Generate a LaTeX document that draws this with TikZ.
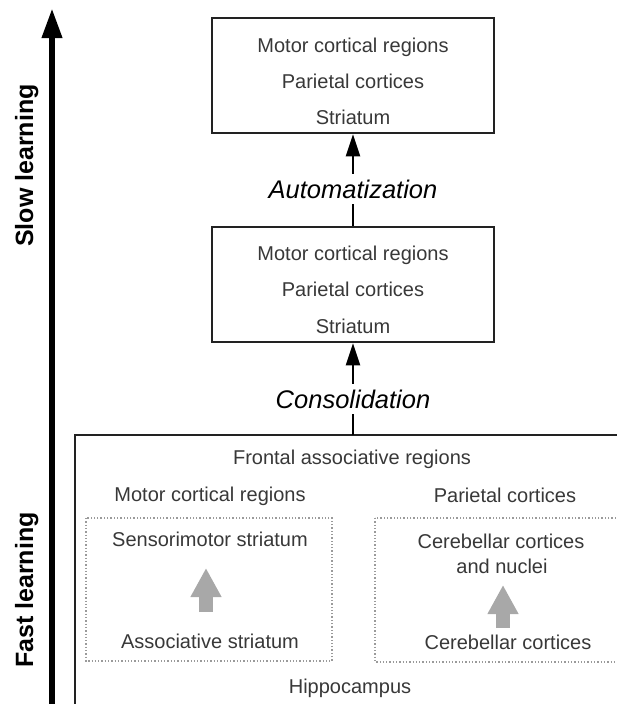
\documentclass[tikz,border=0pt]{standalone}
\usepackage{fontspec}
\setmainfont{Liberation Sans}
\usetikzlibrary{arrows.meta}
\definecolor{txt}{HTML}{383838}
\definecolor{boxc}{HTML}{222222}
\definecolor{fat}{HTML}{A8A8A8}
\definecolor{dotc}{HTML}{9A9A9A}
\tikzset{
  x=1pt, y=1pt,
  lbl/.style={anchor=base, inner sep=0pt, text=txt, font=\fontsize{20}{24}\selectfont},
  ital/.style={inner sep=0pt, minimum width=190, minimum height=30, text=black, font=\fontsize{25.5}{29}\selectfont\itshape},
  bigbox/.style={draw=boxc, line width=2.5pt, minimum width=282, minimum height=115, inner sep=0pt},
  conn/.style={draw=black, line width=2pt, -{Triangle[width=14pt,length=22pt]}},
  plain/.style={draw=black, line width=2pt},
  dotbox/.style={draw=dotc, dotted, line width=1.3pt},
  fatarrow/.style={draw=fat, line width=14pt, -{Triangle[width=29pt,length=29pt]}},
  side/.style={anchor=base, rotate=90, inner sep=0pt, font=\fontsize{25}{30}\selectfont\bfseries}
}
\begin{document}
\begin{tikzpicture}
\useasboundingbox (0,0) rectangle (617,-704);
\clip (0,0) rectangle (617,-704);
% big axis arrow
\coordinate (axb) at (52,-710);
\coordinate (axt) at (52,-8);
\draw[line width=6.5pt, -{Triangle[width=19pt,length=30pt]}] (axb) -- (axt);
\node[side] (slow) at (33,-165.5) {Slow learning};
\node[side] (fast) at (33,-590) {Fast learning};
% top boxes
\node[bigbox] (box1) at (353,-75.5) {};
\node[lbl] (b1a) at (353,-52) {Motor cortical regions};
\node[lbl] (b1b) at (353,-88) {Parietal cortices};
\node[lbl] (b1c) at (353,-124) {Striatum};
\node[bigbox] (box2) at (353,-284.5) {};
\node[lbl] (b2a) at (353,-260) {Motor cortical regions};
\node[lbl] (b2b) at (353,-296) {Parietal cortices};
\node[lbl] (b2c) at (353,-333) {Striatum};
% labels
\node[ital] (auto) at (353,-189) {Automatization};
\node[ital] (cons) at (353,-399) {Consolidation};
% bottom box
\coordinate (bb1) at (75,-435);
\coordinate (bb2) at (640,-730);
\draw[draw=boxc, line width=2.5pt] (bb1) rectangle (bb2);
\coordinate (bbtop) at (353,-435);
\draw[conn] (auto) -- (box1);
\draw[plain] (box2) -- (auto);
\draw[conn] (cons) -- (box2);
\draw[plain] (bbtop) -- (cons);
% bottom box texts
\node[lbl] (front) at (352,-464) {Frontal associative regions};
\node[lbl] (motor) at (210,-501) {Motor cortical regions};
\node[lbl] (pari) at (505,-502) {Parietal cortices};
\node[lbl] (senso) at (210,-546) {Sensorimotor striatum};
\node[lbl] (assoc) at (210,-648) {Associative striatum};
\node[lbl] (cereb1) at (501,-548) {Cerebellar cortices};
\node[lbl] (nuclei) at (502,-573) {and nuclei};
\node[lbl] (cereb2) at (508,-649) {Cerebellar cortices};
\node[lbl] (hippo) at (350,-693) {Hippocampus};
% dotted boxes
\coordinate (d1a) at (86,-518);
\coordinate (d1b) at (332,-661);
\coordinate (d2a) at (375,-518);
\coordinate (d2b) at (660,-662);
\draw[dotbox] (d1a) rectangle (d1b);
\draw[dotbox] (d2a) rectangle (d2b);
% fat gray arrows
\coordinate (f1b) at (206,-612);
\coordinate (f1t) at (206,-568);
\coordinate (f2b) at (503,-628);
\coordinate (f2t) at (503,-585);
\draw[fatarrow] (f1b) -- (f1t);
\draw[fatarrow] (f2b) -- (f2t);
\end{tikzpicture}
\end{document}
